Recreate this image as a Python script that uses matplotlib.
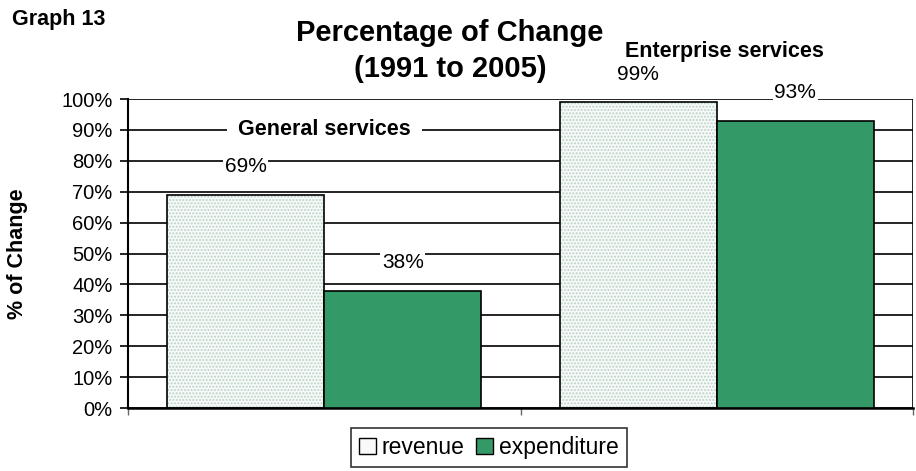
import numpy as np
import matplotlib.pyplot as plt
from matplotlib.patches import Patch

plt.rcParams['font.family'] = ['Liberation Sans', 'DejaVu Sans']

categories = ['General services', 'Enterprise services']
revenue = [69, 99]
expenditure = [38, 93]
series_names = ['revenue', 'expenditure']
yticks = np.arange(0, 101, 10)

green = '#339966'
pale = '#f7faf8'

fig = plt.figure(figsize=(9.16, 4.71), dpi=100)
ax = fig.add_axes([128 / 916, 1 - 408 / 471, 785 / 916, 309 / 471])

x = np.arange(len(categories)) + 0.5
w = 0.4

# gridlines
for t in yticks:
    ax.axhline(t, color='black', lw=1.2, zorder=0)

# revenue: dotted fill then black outline
ax.bar(x - w / 2, revenue, w, color=pale, edgecolor='#b9d3c8', hatch='.....', lw=0, zorder=2)
ax.bar(x - w / 2, revenue, w, facecolor='none', edgecolor='black', lw=1.2, zorder=3)
ax.bar(x + w / 2, expenditure, w, color=green, edgecolor='black', lw=1.2, zorder=3)

ax.set_xlim(0, 2)
ax.set_ylim(0, 100)
ax.set_yticks(yticks)
ax.set_yticklabels([f'{t}%' for t in yticks], fontsize=14.5)
ax.set_xticks([0, 1, 2])
ax.set_xticklabels([])
ax.tick_params(axis='x', direction='out', length=5, width=1, color='#666666')
ax.tick_params(axis='y', direction='out', length=6, width=1.2, pad=5)
for s in ['top', 'right']:
    ax.spines[s].set_visible(False)
ax.spines['left'].set_linewidth(1.5)
ax.spines['bottom'].set_linewidth(1.8)
ax.axvline(2, color='black', lw=1.2, zorder=1)

# value labels with white background, offset above bar tops
box = dict(facecolor='white', edgecolor='none', pad=1)
for xi, v in zip(x - w / 2, revenue):
    ax.text(xi, v + 9, f'{v}%', ha='center', va='center', fontsize=15, bbox=box, zorder=4, clip_on=False)
for xi, v in zip(x + w / 2, expenditure):
    ax.text(xi, v + 9, f'{v}%', ha='center', va='center', fontsize=15, bbox=box, zorder=4, clip_on=False)

# category labels
ax.text(x[0], 90, categories[0], ha='center', va='center', fontsize=15.5, fontweight='bold',
        bbox=dict(facecolor='white', edgecolor='none', pad=8), zorder=4)
ax.text(x[1] + 0.02, 115.5, categories[1], ha='center', va='center', fontsize=15.5, fontweight='bold',
        clip_on=False)

ax.set_ylabel('% of Change', fontsize=15.5, fontweight='bold')
ax.yaxis.set_label_coords(-0.128, 0.5)

fig.text(450 / 916, 1 - 51 / 471, 'Percentage of Change\n(1991 to 2005)', ha='center', va='center',
         fontsize=21, fontweight='bold', linespacing=1.35)
fig.text(12 / 916, 1 - 19 / 471, 'Graph 13', ha='left', va='center', fontsize=15.5, fontweight='bold')

handles = [Patch(facecolor=pale, edgecolor='black', lw=1),
           Patch(facecolor=green, edgecolor='black', lw=1)]
leg = fig.legend(handles, series_names, loc='upper center', bbox_to_anchor=(489 / 916, 1 - 428 / 471),
                 ncol=2, fontsize=16.5, frameon=True, fancybox=False, edgecolor='black',
                 handlelength=0.75, handleheight=0.75, handletextpad=0.25, columnspacing=0.5,
                 borderpad=0.35, borderaxespad=0)
leg.get_frame().set_linewidth(1.2)

fig.savefig('out.png', dpi=100)
